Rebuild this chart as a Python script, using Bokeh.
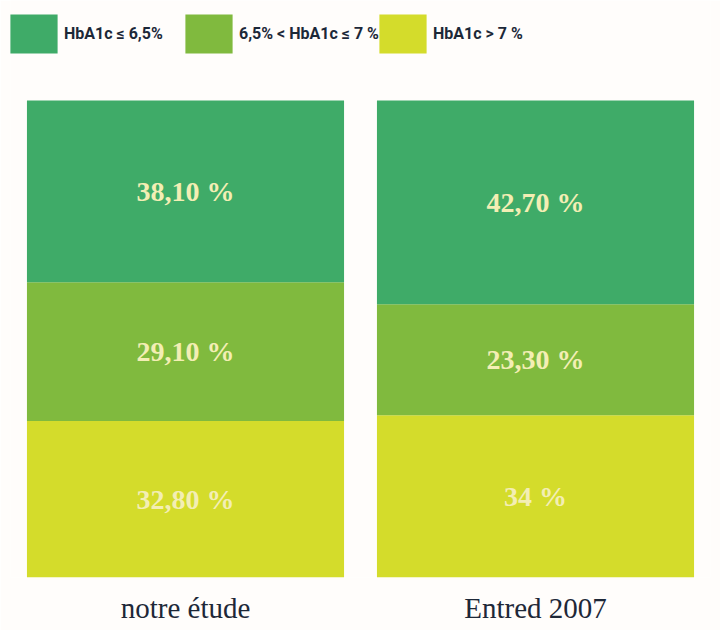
from bokeh.plotting import figure
from bokeh.models import FactorRange, Range1d, Legend, LegendItem, ColumnDataSource
from bokeh.core.properties import value
from bokeh.embed import file_html
from bokeh.resources import INLINE

categories = ["notre étude", "Entred 2007"]
hba1c_le_65 = [38.1, 42.7]
hba1c_65_7 = [29.1, 23.3]
hba1c_gt_7 = [32.8, 34.0]
labels_le_65 = ["38,10 %", "42,70 %"]
labels_65_7 = ["29,10 %", "23,30 %"]
labels_gt_7 = ["32,80 %", "34 %"]
series_names = ["HbA1c ≤ 6,5%", "6,5% < HbA1c ≤ 7 %", "HbA1c > 7 %"]
colors = ["#3FAB68", "#80BA3E", "#D4DC2B"]

src = ColumnDataSource(dict(cat=categories, gt7=hba1c_gt_7, mid=hba1c_65_7, le65=hba1c_le_65))

p = figure(x_range=FactorRange(*categories), y_range=Range1d(0, 120.96),
           width=720, height=630, output_backend="svg", toolbar_location=None,
           min_border_left=10, min_border_right=10, min_border_top=0, min_border_bottom=53,
           background_fill_color="#FFFDFB", border_fill_color="#FFFDFB")
p.outline_line_color = None
p.grid.grid_line_color = None
p.yaxis.visible = False

rs = p.vbar_stack(["gt7", "mid", "le65"], x="cat", width=0.906, source=src,
                  color=[colors[2], colors[1], colors[0]], line_width=0)

# value labels at segment centres
ys_gt = [v / 2 for v in hba1c_gt_7]
ys_mid = [a + b / 2 for a, b in zip(hba1c_gt_7, hba1c_65_7)]
ys_le = [a + b + c / 2 for a, b, c in zip(hba1c_gt_7, hba1c_65_7, hba1c_le_65)]
lab_src = ColumnDataSource(dict(x=categories * 3, y=ys_le + ys_mid + ys_gt,
                                t=labels_le_65 + labels_65_7 + labels_gt_7))
p.text(x="x", y="y", text="t", source=lab_src, text_align="center", text_baseline="middle",
       text_font=value("Liberation Serif"), text_font_style="bold", text_font_size="28px",
       text_color="#F3EEB4")

xa = p.xaxis[0]
xa.axis_line_color = None
xa.major_tick_line_color = None
xa.minor_tick_line_color = None
xa.major_label_text_font = "Liberation Serif"
xa.major_label_text_font_size = "29px"
xa.major_label_text_color = "#1E2838"
xa.major_label_standoff = 8

renderer_for = [rs[2], rs[1], rs[0]]
legend_x = [-6, 169, 363]
for name, r, lx in zip(series_names, renderer_for, legend_x):
    lg = Legend(items=[LegendItem(label=name, renderers=[r])], location=(lx, 519),
                glyph_width=59, glyph_height=49, label_standoff=1, padding=0, margin=0,
                border_line_alpha=0, background_fill_alpha=0,
                label_text_font="Roboto",
                label_text_font_style="bold", label_text_font_size="16px",
                label_text_color="#1C2838", label_height=49)
    p.add_layout(lg)

open("out.html", "w").write(file_html(p, INLINE))
